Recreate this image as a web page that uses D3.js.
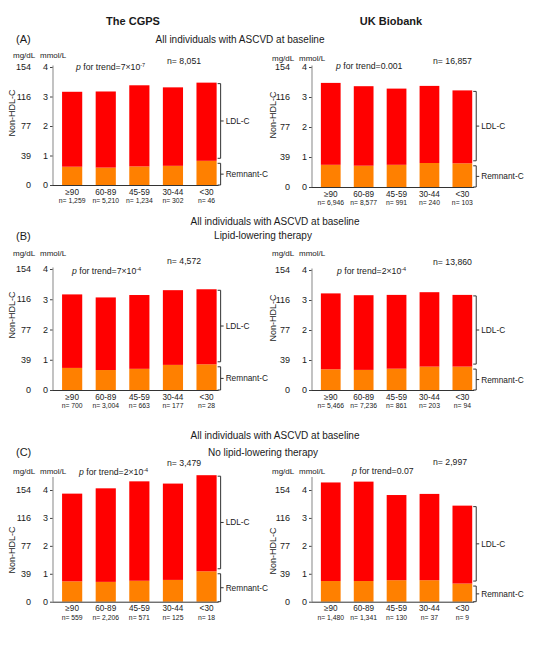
<!DOCTYPE html>
<html>
<head>
<meta charset="utf-8">
<script src="https://cdn.jsdelivr.net/npm/d3@7"></script>
<style>
  body { margin: 0; background: #fff; }
  svg { display: block; font-family: "Liberation Sans", Arial, sans-serif; }
  text { fill: #1a1a1a; }
</style>
</head>
<body>
<svg width="533" height="657"></svg>
<script>
// categories (age at baseline groups)
const groups = ['≥90', '60-89', '45-59', '30-44', '<30'];
const mmolTicks = [0, 1, 2, 3, 4];
const mgdlTicks = ['0', '39', '77', '116', '154'];

// non-HDL-C (mmol/L), remnant-C (mmol/L), and n per group
const cgpsAllTotal = [3.16, 3.17, 3.38, 3.31, 3.47];
const cgpsAllRemnant = [0.62, 0.59, 0.63, 0.65, 0.82];
const cgpsAllN = ['1,259', '5,210', '1,234', '302', '46'];

const ukbAllTotal = [3.47, 3.36, 3.28, 3.37, 3.22];
const ukbAllRemnant = [0.74, 0.71, 0.74, 0.80, 0.79];
const ukbAllN = ['6,946', '8,577', '991', '240', '103'];

const cgpsLltTotal = [3.16, 3.06, 3.14, 3.30, 3.33];
const cgpsLltRemnant = [0.73, 0.66, 0.70, 0.83, 0.85];
const cgpsLltN = ['700', '3,004', '663', '177', '28'];

const ukbLltTotal = [3.22, 3.16, 3.17, 3.26, 3.17];
const ukbLltRemnant = [0.69, 0.67, 0.71, 0.78, 0.78];
const ukbLltN = ['5,466', '7,236', '861', '203', '94'];

const cgpsNoTotal = [3.87, 4.06, 4.31, 4.23, 4.53];
const cgpsNoRemnant = [0.73, 0.71, 0.75, 0.78, 1.09];
const cgpsNoN = ['559', '2,206', '571', '125', '18'];

const ukbNoTotal = [4.27, 4.30, 3.82, 3.86, 3.44];
const ukbNoRemnant = [0.74, 0.74, 0.77, 0.77, 0.65];
const ukbNoN = ['1,480', '1,341', '130', '37', '9'];

const totalN = ['8,051', '16,857', '4,572', '13,860', '3,479', '2,997'];
const pBase = ['7×10', '0.001', '7×10', '2×10', '2×10', '0.07'];
const pExp = ['-7', '', '-4', '-4', '-4', ''];

const colors = { remnant: '#ff8000', ldl: '#ff0000' };

const svg = d3.select('svg');

// headers
svg.append('text').attr('x', 133).attr('y', 25).attr('text-anchor', 'middle')
  .attr('font-size', 11).attr('font-weight', 'bold').text('The CGPS');
svg.append('text').attr('x', 391).attr('y', 25).attr('text-anchor', 'middle')
  .attr('font-size', 11).attr('font-weight', 'bold').text('UK Biobank');

const rows = [
  { tag: '(A)', tagY: 43, lines: [['All individuals with ASCVD at baseline', 240, 43]] },
  { tag: '(B)', tagY: 240, lines: [['All individuals with ASCVD at baseline', 275, 225], ['Lipid-lowering therapy', 263, 239]] },
  { tag: '(C)', tagY: 456, lines: [['All individuals with ASCVD at baseline', 275, 439], ['No lipid-lowering therapy', 263, 456]] }
];
rows.forEach(r => {
  svg.append('text').attr('x', 16).attr('y', r.tagY).attr('font-size', 11).text(r.tag);
  r.lines.forEach(l => {
    svg.append('text').attr('x', l[1]).attr('y', l[2]).attr('text-anchor', 'middle')
      .attr('font-size', 10).text(l[0]);
  });
});

const panels = [
  { total: cgpsAllTotal, rem: cgpsAllRemnant, n: cgpsAllN, ax: 53, y0: 185, y4: 67, top: 4.05, unitY: 58, pX: 76, pY: 70, nX: 167, nY: 64, labY: 113 },
  { total: ukbAllTotal, rem: ukbAllRemnant, n: ukbAllN, ax: 312, y0: 187, y4: 67, top: 4.05, unitY: 61, pX: 336, pY: 69, nX: 433, nY: 64, labY: 115 },
  { total: cgpsLltTotal, rem: cgpsLltRemnant, n: cgpsLltN, ax: 53, y0: 390, y4: 269, top: 4.05, unitY: 256, pX: 72, pY: 274, nX: 167, nY: 264, labY: 315 },
  { total: ukbLltTotal, rem: ukbLltRemnant, n: ukbLltN, ax: 312, y0: 390, y4: 270, top: 4.05, unitY: 256, pX: 337, pY: 274, nX: 433, nY: 265, labY: 318 },
  { total: cgpsNoTotal, rem: cgpsNoRemnant, n: cgpsNoN, ax: 53, y0: 601.7, y4: 490, top: 4.47, unitY: 474, pX: 79, pY: 475, nX: 167, nY: 466, labY: 550 },
  { total: ukbNoTotal, rem: ukbNoRemnant, n: ukbNoN, ax: 312, y0: 601.7, y4: 490, top: 4.47, unitY: 474, pX: 352, pY: 474, nX: 433, nY: 465, labY: 551 }
];

panels.forEach((p, i) => {
  const g = svg.append('g');
  const step = i % 2 === 0 ? 33.6 : 32.9;
  const x = d3.scaleBand().domain(groups)
    .range([p.ax, p.ax + step * 5.14])
    .paddingInner(0.4).paddingOuter(0.27);
  const y = d3.scaleLinear().domain([0, 4]).range([p.y0, p.y4]);

  const rowsData = groups.map((grp, k) => ({ grp, remnant: p.rem[k], ldl: p.total[k] - p.rem[k] }));
  const series = d3.stack().keys(['remnant', 'ldl'])(rowsData);

  g.selectAll('g.series').data(series).enter().append('g')
    .attr('fill', d => colors[d.key])
    .selectAll('rect').data(d => d).enter().append('rect')
    .attr('x', d => x(d.data.grp))
    .attr('width', x.bandwidth())
    .attr('y', d => y(d[1]))
    .attr('height', d => y(d[0]) - y(d[1]));

  // y axis (mmol/L)
  const yAxis = g.append('g').attr('transform', `translate(${p.ax},0)`)
    .call(d3.axisLeft(y).tickValues(mmolTicks).tickFormat(d3.format('d'))
      .tickSize(3).tickPadding(2).tickSizeOuter(0));
  yAxis.select('.domain').remove();
  yAxis.selectAll('.tick line').attr('stroke', '#444');
  yAxis.selectAll('.tick text').attr('font-size', 9).attr('font-family', null).style('fill', '#1a1a1a');
  g.append('line').attr('x1', p.ax).attr('x2', p.ax)
    .attr('y1', y(0)).attr('y2', y(p.top)).attr('stroke', '#9a9a9a').attr('stroke-width', 1.2);

  // mg/dL column
  g.selectAll('text.mg').data(mmolTicks).enter().append('text')
    .attr('x', p.ax - 22).attr('y', d => y(d) + 3)
    .attr('text-anchor', 'end').attr('font-size', 9)
    .text((d, k) => mgdlTicks[k]);

  g.append('text').attr('x', p.ax - 40).attr('y', p.unitY).attr('font-size', 8).text('mg/dL');
  g.append('text').attr('x', p.ax - 13).attr('y', p.unitY).attr('font-size', 8).text('mmol/L');

  // x baseline
  const lastEnd = x(groups[4]) + x.bandwidth();
  g.append('line').attr('x1', p.ax).attr('x2', lastEnd + 2)
    .attr('y1', y(0) + 0.5).attr('y2', y(0) + 0.5).attr('stroke', '#333');

  // category + n labels
  g.selectAll('text.cat').data(groups).enter().append('text')
    .attr('x', d => x(d) + x.bandwidth() / 2).attr('y', y(0) + 9.5)
    .attr('text-anchor', 'middle').attr('font-size', 8.2).text(d => d);
  g.selectAll('text.n').data(p.n).enter().append('text')
    .attr('x', (d, k) => x(groups[k]) + x.bandwidth() / 2).attr('y', y(0) + 18)
    .attr('text-anchor', 'middle').attr('font-size', 6.8).text(d => 'n= ' + d);

  // y title
  const lx = i % 2 === 0 ? 15 : 276;
  g.append('text').attr('transform', `translate(${lx},${p.labY}) rotate(-90)`)
    .attr('text-anchor', 'middle').attr('font-size', 9).text('Non-HDL-C');

  // p for trend
  const pt = g.append('text').attr('x', p.pX).attr('y', p.pY).attr('font-size', 8.7);
  pt.append('tspan').attr('font-style', 'italic').text('p');
  pt.append('tspan').text(' for trend=' + pBase[i]);
  if (pExp[i]) pt.append('tspan').attr('dy', -3.5).attr('font-size', 5.5).text(pExp[i]);

  g.append('text').attr('x', p.nX).attr('y', p.nY).attr('font-size', 8.7).text('n= ' + totalN[i]);

  // brackets on last bar
  const bx = lastEnd + 4;
  const last = rowsData[4];
  const brackets = [
    { t: y(last.remnant + last.ldl) + 1, b: y(last.remnant) - 2.5, label: 'LDL-C' },
    { t: y(last.remnant) + 2.5, b: y(0), label: 'Remnant-C' }
  ];
  brackets.forEach(br => {
    const m = (br.t + br.b) / 2;
    g.append('path')
      .attr('d', `M${bx - 3},${br.t}H${bx}V${br.b}H${bx - 3}M${bx},${m}H${bx + 3}`)
      .attr('fill', 'none').attr('stroke', '#333').attr('stroke-width', 1);
    g.append('text').attr('x', bx + 5).attr('y', m + 3).attr('font-size', 8.3).text(br.label);
  });
});
</script>
</body>
</html>
